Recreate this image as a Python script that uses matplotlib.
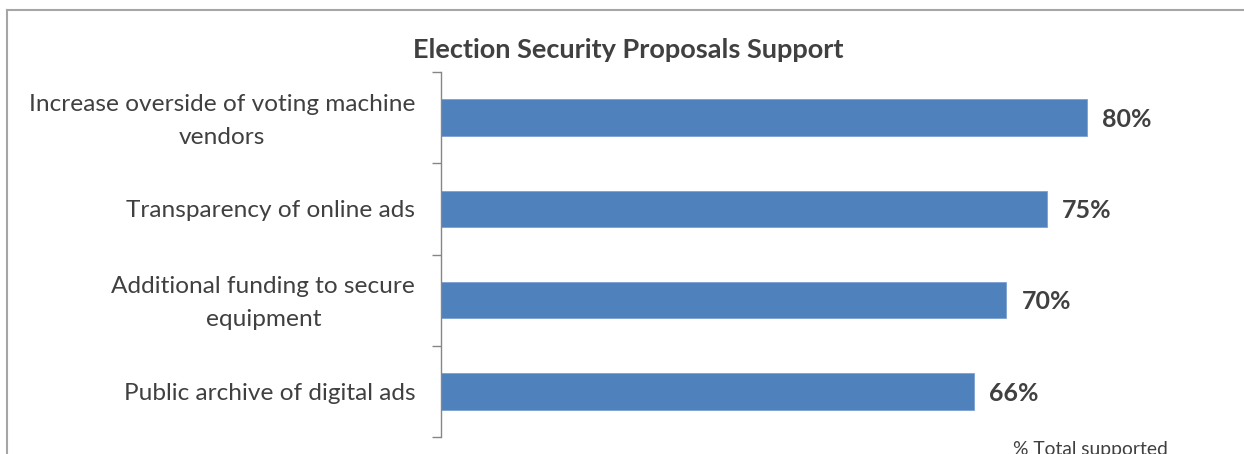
import matplotlib.pyplot as plt
import matplotlib.transforms as mtransforms
from matplotlib.lines import Line2D

# data
categories = [
    'Increase overside of voting machine\nvendors',
    'Transparency of online ads',
    'Additional funding to secure\nequipment',
    'Public archive of digital ads',
]
support_pct = [80, 75, 70, 66]
value_labels = ['80%', '75%', '70%', '66%']

chart_title = 'Election Security Proposals Support'
x_title = '% Total supported'

bar_color = '#4F81BD'
text_color = '#404040'
axis_color = '#868686'
frame_color = '#a6a6a6'

plt.rcParams['font.family'] = ['Lato', 'DejaVu Sans']

# figure in pixels
width = 1244
height = 454
ppi = 100
fig = plt.figure(figsize=(width / ppi, height / ppi), dpi=ppi)

# outer chart frame: only top and left edges fall inside the crop
fx = 7.5 / width
fy = 1 - 9.5 / height
fig.lines.append(Line2D([fx, 1.0], [fy, fy], transform=fig.transFigure,
                        color=frame_color, linewidth=1.5))
fig.lines.append(Line2D([fx, fx], [0.0, fy], transform=fig.transFigure,
                        color=frame_color, linewidth=1.5))

ax = fig.add_axes([441 / width, 1 - 437 / height, 807.5 / width, 365 / height])

ypos = list(range(len(categories)))
ax.barh(ypos, support_pct, height=0.4, color=bar_color, edgecolor='#7ea1cf', linewidth=0.6)

ax.set_xlim(0, 100)
ax.set_ylim(len(categories) - 0.5, -0.5)

for y, v, lab in zip(ypos, support_pct, value_labels):
    ax.text(v + 1.9, y + 0.02, lab, va='center', ha='left', fontsize=18,
            fontweight='bold', color=text_color)

# axis styling: only the left spine, ticks between categories
for side in ['top', 'right', 'bottom']:
    ax.spines[side].set_visible(False)
ax.spines['left'].set_color(axis_color)
ax.spines['left'].set_linewidth(1.0)
ax.set_xticks([])
ax.set_yticks(ypos)
ax.set_yticklabels(categories)
ax.set_yticks([y - 0.5 for y in range(len(categories) + 1)], minor=True)
ax.tick_params(axis='y', which='major', length=0, pad=18.5,
               labelsize=17.6, labelcolor=text_color)
ax.tick_params(axis='y', which='minor', length=6.5, width=1.0, color=axis_color)
# two-line labels sit a bit higher in the reference
lift = mtransforms.ScaledTranslation(0, 5 / ppi, fig.dpi_scale_trans)
for t in ax.get_yticklabels():
    t.set_multialignment('center')
    t.set_linespacing(1.7)
    if '\n' in t.get_text():
        t.set_transform(t.get_transform() + lift)

fig.text(628 / width, 1 - 50 / height, chart_title, ha='center', va='center',
         fontsize=19.5, fontweight='bold', color=text_color)
fig.text(1090 / width, 1 - 441 / height, x_title, ha='center', va='top',
         fontsize=13.9, color=text_color)

plt.savefig('out.png', dpi=ppi)
